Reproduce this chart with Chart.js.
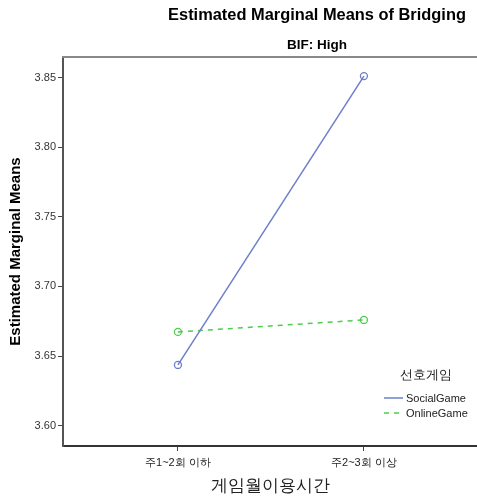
<!DOCTYPE html>
<html>
<head>
<meta charset="utf-8">
<script src="https://cdn.jsdelivr.net/npm/chart.js@4"></script>
<style>
  body { margin: 0; background: #fff; }
  #wrap { width: 477px; height: 497px; position: relative; }
</style>
</head>
<body>
<div id="wrap"><canvas id="emmChart"></canvas></div>
<script>
// chart data
const categories = ["주1~2회 이하", "주2~3회 이상"];
const socialGame = [3.6436, 3.851];
const onlineGame = [3.6673, 3.6759];
const yTicks = [3.60, 3.65, 3.70, 3.75, 3.80, 3.85];
const seriesNames = ["SocialGame", "OnlineGame"];

const FONT = "'Liberation Sans', Arial, sans-serif";

// titles, top frame line and the inside legend
const decorPlugin = {
    id: "decor",
    afterDraw(chart) {
        const ctx = chart.ctx;
        const area = chart.chartArea;
        ctx.save();
        ctx.fillStyle = "#000";
        ctx.textAlign = "center";
        ctx.textBaseline = "middle";
        ctx.font = "bold 16.4px " + FONT;
        ctx.fillText("Estimated Marginal Means of Bridging", 317, 15);
        ctx.font = "bold 13.5px " + FONT;
        ctx.fillText("BIF: High", 317, 45);

        // top border
        ctx.strokeStyle = "#888";
        ctx.lineWidth = 2;
        ctx.beginPath();
        ctx.moveTo(area.left - 1, area.top);
        ctx.lineTo(area.right, area.top);
        ctx.stroke();

        // legend
        ctx.font = "13px " + FONT;
        ctx.fillStyle = "#222";
        ctx.fillText("선호게임", 426, 375);
        ctx.font = "11px " + FONT;
        ctx.textAlign = "left";
        chart.data.datasets.forEach((ds, i) => {
            const y = 398 + i * 15;
            ctx.strokeStyle = ds.borderColor;
            ctx.lineWidth = 1.5;
            ctx.setLineDash(ds.borderDash || []);
            ctx.beginPath();
            ctx.moveTo(384, y);
            ctx.lineTo(403, y);
            ctx.stroke();
            ctx.setLineDash([]);
            ctx.fillStyle = "#222";
            ctx.fillText(ds.label, 406, y + 1);
        });
        ctx.restore();
    }
};

const ctx = document.getElementById("emmChart").getContext("2d");
new Chart(ctx, {
    type: "line",
    data: {
        datasets: [{
            label: seriesNames[0],
            data: socialGame.map((v, i) => ({ x: i, y: v })),
            borderColor: "#6c7fca",
            borderWidth: 1.5,
            pointRadius: 3.5,
            pointBorderWidth: 1.3,
            pointBackgroundColor: "rgba(0,0,0,0)",
            pointBorderColor: "#6c7fca",
            fill: false
        }, {
            label: seriesNames[1],
            data: onlineGame.map((v, i) => ({ x: i, y: v })),
            borderColor: "#4ccd4c",
            borderDash: [5, 5],
            borderWidth: 1.5,
            pointRadius: 3.5,
            pointBorderWidth: 1.3,
            pointBackgroundColor: "rgba(0,0,0,0)",
            pointBorderColor: "#4ccd4c",
            fill: false
        }]
    },
    options: {
        responsive: true,
        maintainAspectRatio: false,
        animation: false,
        layout: { autoPadding: false, padding: { top: 57, left: 0, right: 0, bottom: 0 } },
        plugins: {
            legend: { display: false },
            tooltip: { enabled: false }
        },
        scales: {
            x: {
                type: "linear",
                min: -0.618,
                max: 1.608,
                afterBuildTicks: axis => { axis.ticks = categories.map((c, i) => ({ value: i })); },
                afterFit: axis => {
                    axis.height = 51;
                    axis.paddingLeft = 0;
                    axis.paddingRight = 0;
                },
                ticks: {
                    callback: v => categories[v],
                    color: "#222",
                    font: { family: FONT, size: 11 },
                    padding: 5,
                    maxRotation: 0
                },
                grid: { drawOnChartArea: false, tickLength: 5, tickColor: "#444" },
                border: { display: true, color: "#333", width: 2 },
                title: {
                    display: true,
                    text: "게임월이용시간",
                    color: "#222",
                    font: { family: FONT, size: 17 },
                    padding: { top: 0, bottom: 0 }
                }
            },
            y: {
                min: 3.5854,
                max: 3.8647,
                afterBuildTicks: axis => { axis.ticks = yTicks.map(v => ({ value: v })); },
                afterFit: axis => { axis.width = 63; },
                ticks: {
                    callback: v => v.toFixed(2),
                    color: "#333",
                    font: { family: FONT, size: 11 },
                    padding: 2
                },
                grid: { drawOnChartArea: false, tickLength: 5, tickColor: "#444" },
                border: { display: true, color: "#555", width: 2 },
                title: {
                    display: true,
                    text: "Estimated Marginal Means",
                    color: "#000",
                    font: { family: FONT, size: 15, weight: "bold" },
                    padding: { top: 7, bottom: 0 }
                }
            }
        }
    },
    plugins: [decorPlugin]
});
</script>
</body>
</html>
